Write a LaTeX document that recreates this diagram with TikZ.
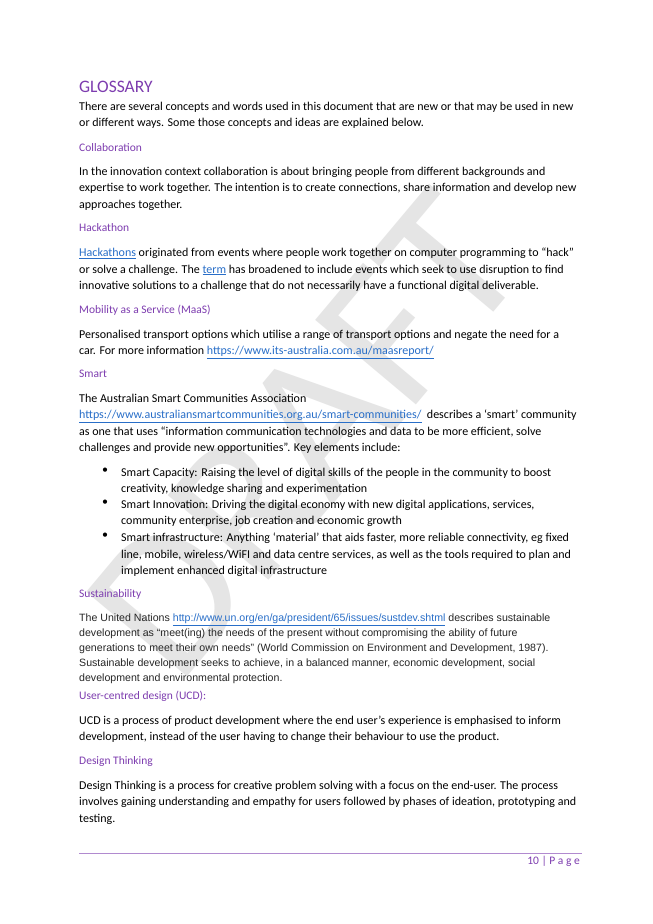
\documentclass[tikz,border=0pt]{standalone}
\usepackage{fontspec}
\setmainfont{Carlito}
\newfontfamily\arialfont{Liberation Sans}
\usepackage{xcolor}
\usetikzlibrary{positioning}
\definecolor{headpurple}{RGB}{125,60,175}
\definecolor{linkblue}{RGB}{40,110,200}
\newcommand{\lnk}[1]{\textcolor{linkblue}{\underline{#1}}}

\begin{document}
\begin{tikzpicture}[x=1pt, y=-1pt,
    body/.style={anchor=north west, inner sep=0pt, align=left, font=\fontsize{12}{16.3}\selectfont},
    arial/.style={anchor=north west, inner sep=0pt, align=left, font=\arialfont\fontsize{10.6}{15}\selectfont, text=black!85},
    heading/.style={anchor=north west, inner sep=0pt, font=\fontsize{11.5}{14}\selectfont, text=headpurple},
    bulletdot/.style={anchor=north west, inner sep=0pt, font=\fontsize{12}{16.3}\selectfont}
]
\useasboundingbox (0,0) rectangle (653,924);
\fill[white] (0,0) rectangle (653,924);

% Watermark
\node[rotate=50, text=gray!20, font=\fontsize{205}{205}\selectfont] (draftmark) at (305,435) {DRAFT};

% Title and intro
\node[anchor=north west, inner sep=0pt, font=\fontsize{17.5}{20}\selectfont, text=headpurple] (title) at (79,81) {GLOSSARY};
\node[body] (intro) at (79,102) {There are several concepts and words used in this document that are new or that may be used in new\\or different ways. Some those concepts and ideas are explained below.};

% Collaboration
\node[heading] (collabhead) at (79,143) {Collaboration};
\node[body] (collab) at (79,167) {In the innovation context collaboration is about bringing people from different backgrounds and\\expertise to work together. The intention is to create connections, share information and develop new\\approaches together.};

% Hackathon
\node[heading] (hackhead) at (79,223) {Hackathon};
\node[body] (hack) at (79,248) {\lnk{Hackathons} originated from events where people work together on computer programming to “hack”\\or solve a challenge. The \lnk{term} has broadened to include events which seek to use disruption to find\\innovative solutions to a challenge that do not necessarily have a functional digital deliverable.};

% MaaS
\node[heading] (maashead) at (79,305) {Mobility as a Service (MaaS)};
\node[body] (maas) at (79,330) {Personalised transport options which utilise a range of transport options and negate the need for a\\car. For more information \lnk{https://www.its-australia.com.au/maasreport/}};

% Smart
\node[heading] (smarthead) at (79,370) {Smart};
\node[body] (smart) at (79,394) {The Australian Smart Communities Association\\\lnk{https://www.australiansmartcommunities.org.au/smart-communities/}\ \ describes a ‘smart’ community\\as one that uses “information communication technologies and data to be more efficient, solve\\challenges and provide new opportunities”. Key elements include:};

% Bullets
\foreach \yy in {468,500,533} {
  \node[bulletdot] at (102,\yy) {\textbullet};
}
\node[body] (capacity) at (121,468) {Smart Capacity: Raising the level of digital skills of the people in the community to boost\\creativity, knowledge sharing and experimentation};
\node[body] (innovation) at (121,500) {Smart Innovation: Driving the digital economy with new digital applications, services,\\community enterprise, job creation and economic growth};
\node[body] (infra) at (121,533) {Smart infrastructure: Anything ‘material’ that aids faster, more reliable connectivity, eg fixed\\line, mobile, wireless/WiFI and data centre services, as well as the tools required to plan and\\implement enhanced digital infrastructure};

% Sustainability
\node[heading] (sushead) at (79,589) {Sustainability};
\node[arial] (sus) at (79,614) {The United Nations \lnk{http://www.un.org/en/ga/president/65/issues/sustdev.shtml} describes sustainable\\development as “meet(ing) the needs of the present without compromising the ability of future\\generations to meet their own needs” (World Commission on Environment and Development, 1987).\\Sustainable development seeks to achieve, in a balanced manner, economic development, social\\development and environmental protection.};

% UCD
\node[heading] (ucdhead) at (79,691) {User-centred design (UCD):};
\node[body] (ucd) at (79,716) {UCD is a process of product development where the end user’s experience is emphasised to inform\\development, instead of the user having to change their behaviour to use the product.};

% Design Thinking
\node[heading] (dthead) at (79,756) {Design Thinking};
\node[body] (dt) at (79,781) {Design Thinking is a process for creative problem solving with a focus on the end-user. The process\\involves gaining understanding and empathy for users followed by phases of ideation, prototyping and\\testing.};

% Footer
\coordinate (footl) at (79,853);
\coordinate (footr) at (582,853);
\draw[headpurple!60, line width=0.6pt] (footl) -- (footr);
\node[anchor=north east, inner sep=0pt, font=\fontsize{11.5}{14}\selectfont, text=headpurple] (pagenum) at (580,856) {10 | P a g e};
\end{tikzpicture}
\end{document}
